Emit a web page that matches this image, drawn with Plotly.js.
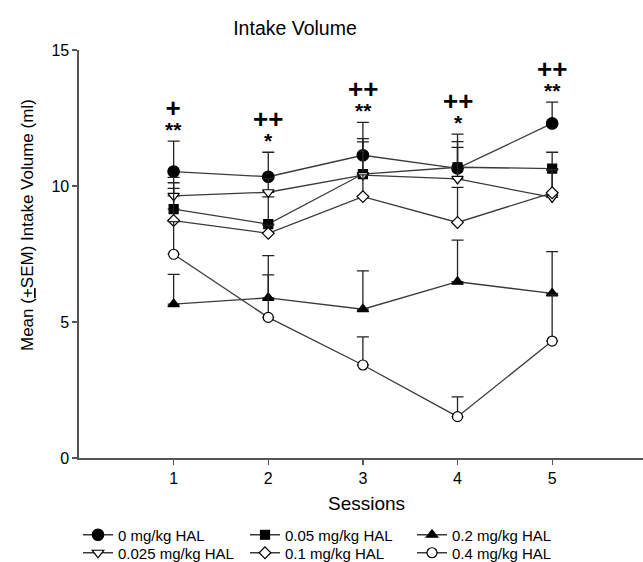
<!DOCTYPE html>
<html>
<head>
<meta charset="utf-8">
<script src="https://cdn.plot.ly/plotly-3.0.1.min.js"></script>
<style>html,body{margin:0;padding:0;background:#fff;}#chart{width:643px;height:562px;}</style>
</head>
<body>
<div id="chart"></div>
<script>
const sessions = [1, 2, 3, 4, 5];
const tickLabels = ['1', '2', '3', '4', '5'];

const hal0 = [10.53, 10.34, 11.13, 10.65, 12.30];
const hal0Sem = [1.12, 0.90, 1.21, 1.26, 0.78];
const hal005 = [9.15, 8.60, 10.44, 10.69, 10.64];
const hal005Sem = [0.97, 1.00, 1.30, 0.94, 0.60];
const hal02 = [5.66, 5.89, 5.47, 6.48, 6.05];
const hal02Sem = [1.09, 1.55, 1.41, 1.53, 1.54];
const hal0025 = [9.64, 9.77, 10.40, 10.26, 9.58];
const hal0025Sem = [0.68, 0.50, 1.22, 1.16, 1.00];
const hal01 = [8.73, 8.26, 9.61, 8.66, 9.75];
const hal01Sem = [1.18, 0.30, 0.80, 1.29, 0.85];
const hal04 = [7.49, 5.17, 3.42, 1.52, 4.30];
const hal04Sem = [1.20, 1.56, 1.03, 0.73, 1.70];

const plusMarks = ['+', '++', '++', '++', '++'];
const starMarks = ['**', '*', '**', '*', '**'];

const FONT = 'Liberation Sans, Arial, Helvetica, sans-serif';
const LINE = '#3a3a3a';

function series(name, y, sem, symbol, size, filled, legendId) {
  return {
    type: 'scatter', mode: 'lines+markers', name: name, legend: legendId,
    x: sessions, y: y,
    line: {color: LINE, width: 1.3},
    marker: {symbol: symbol, size: size, color: filled ? '#000' : '#fff',
             line: {color: '#000', width: 1.2}},
    error_y: {type: 'data', array: sem, arrayminus: sem.map(() => 0), symmetric: false,
              color: '#222', thickness: 1.3, width: 6}
  };
}

const data = [
  series('0 mg/kg HAL', hal0, hal0Sem, 'circle', 11.5, true, 'legend'),
  series('0.05 mg/kg HAL', hal005, hal005Sem, 'square', 9, true, 'legend'),
  series('0.2 mg/kg HAL', hal02, hal02Sem, 'triangle-up', 10, true, 'legend'),
  series('0.025 mg/kg HAL', hal0025, hal0025Sem, 'triangle-down', 10, false, 'legend2'),
  series('0.1 mg/kg HAL', hal01, hal01Sem, 'diamond', 9, false, 'legend2'),
  series('0.4 mg/kg HAL', hal04, hal04Sem, 'circle', 10, false, 'legend2')
];

const allSeries = [[hal0, hal0Sem], [hal005, hal005Sem], [hal02, hal02Sem],
                   [hal0025, hal0025Sem], [hal01, hal01Sem], [hal04, hal04Sem]];
const topAt = sessions.map((s, i) => Math.max(...allSeries.map(p => p[0][i] + p[1][i])));

const annotations = [];
sessions.forEach((s, i) => {
  annotations.push({x: s, y: topAt[i], xref: 'x', yref: 'y', showarrow: false,
    text: '<span style="font-size:26px">' + plusMarks[i] + '</span><br><span style="font-size:21px">' + starMarks[i] + '</span>',
    font: {family: FONT, size: 15, color: '#000', weight: 'bold'}, yanchor: 'middle', yshift: 24, borderpad: 0});
});
annotations.push({xref: 'paper', yref: 'paper', x: (27 - 79) / 564, y: (458 - 225) / 408,
  text: 'Mean (<u>+</u>SEM) Intake Volume (ml)', textangle: -90, showarrow: false,
  xanchor: 'center', yanchor: 'middle', font: {family: FONT, size: 17, color: '#000'}});
annotations.push({xref: 'paper', yref: 'paper', x: (366 - 79) / 564, y: -(503 - 458) / 408,
  text: 'Sessions', showarrow: false, xanchor: 'center', yanchor: 'middle',
  font: {family: FONT, size: 19, color: '#000'}});

const legendBase = {orientation: 'h', xref: 'container', yref: 'container', x: 78 / 643,
  xanchor: 'left', yanchor: 'middle', entrywidth: 122, entrywidthmode: 'pixels',
  font: {family: FONT, size: 15, color: '#000'}, bgcolor: 'rgba(0,0,0,0)'};

const layout = {
  width: 643, height: 562,
  margin: {l: 79, r: 0, t: 50, b: 104},
  paper_bgcolor: '#fff', plot_bgcolor: '#fff',
  font: {family: FONT, size: 16, color: '#000'},
  title: {text: 'Intake Volume', xref: 'container', yref: 'container', x: 295 / 643, y: 1 - 28 / 562,
          xanchor: 'center', yanchor: 'middle', font: {family: FONT, size: 19.5, color: '#000'}},
  xaxis: {range: [0, 5.96], tickvals: sessions, ticktext: tickLabels, ticks: 'outside', ticklen: 5,
          tickcolor: '#555', tickwidth: 1.3, showline: true, linecolor: '#555', linewidth: 1.6,
          showgrid: false, zeroline: false, tickfont: {family: FONT, size: 16, color: '#000'}},
  yaxis: {range: [0, 15], tickvals: [0, 5, 10, 15], ticks: 'outside', ticklen: 5,
          tickcolor: '#555', tickwidth: 1.3, showline: true, linecolor: '#555', linewidth: 1.6,
          showgrid: false, zeroline: false, tickfont: {family: FONT, size: 16, color: '#000'}},
  showlegend: true,
  legend: Object.assign({}, legendBase, {y: 1 - 535 / 562}),
  legend2: Object.assign({}, legendBase, {y: 1 - 553 / 562}),
  annotations: annotations
};

Plotly.newPlot('chart', data, layout, {displayModeBar: false, staticPlot: true});
</script>
</body>
</html>
